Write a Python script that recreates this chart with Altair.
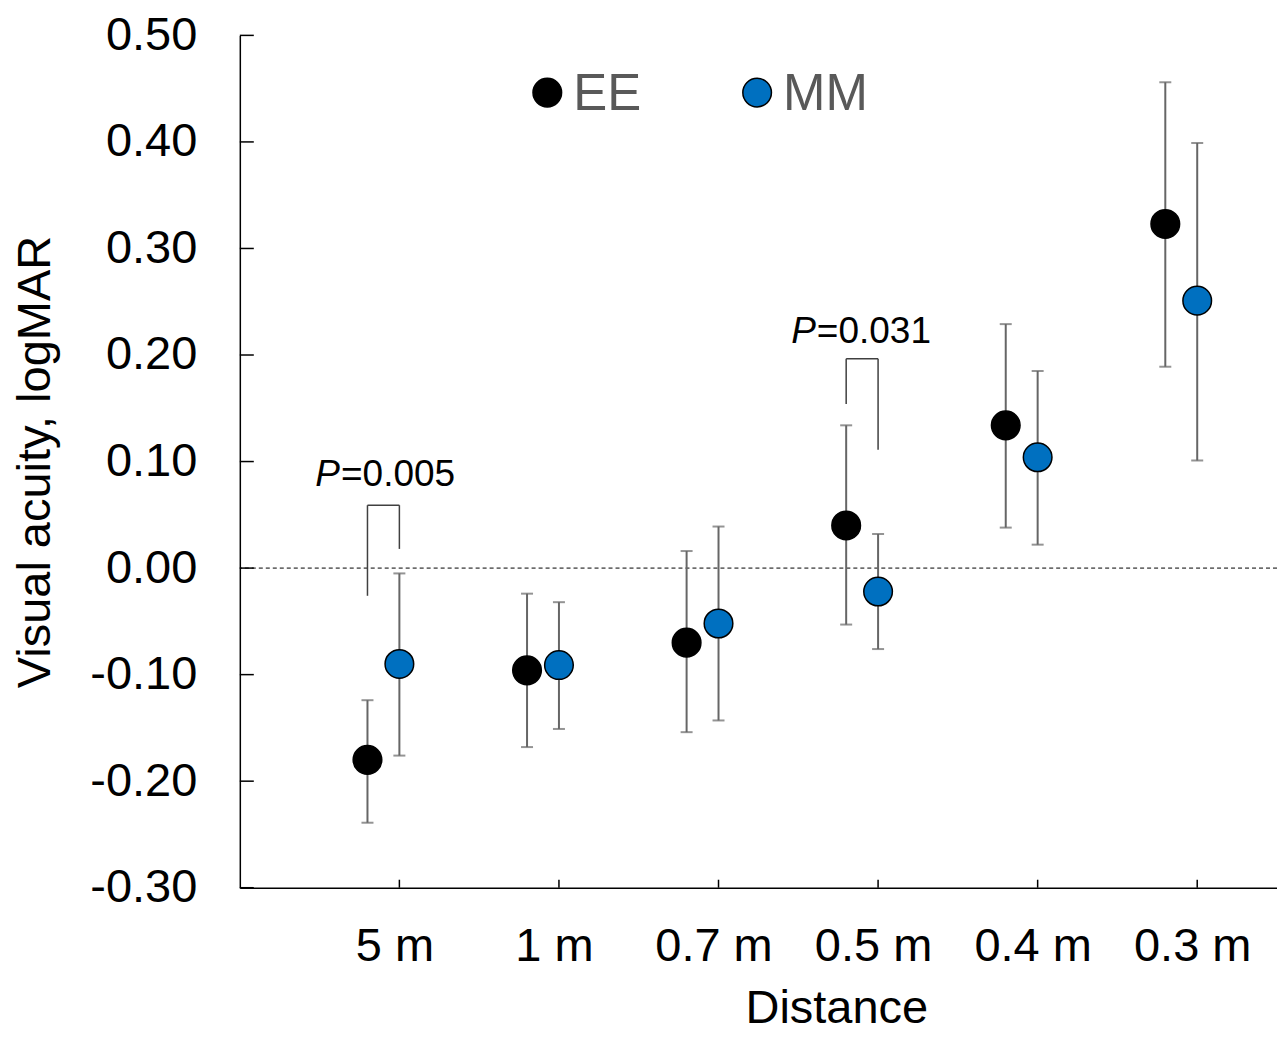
import json
import altair as alt
import pandas as pd

distances = ["5 m", "1 m", "0.7 m", "0.5 m", "0.4 m", "0.3 m"]
groups = ["EE", "MM"]
group_colors = ["#000000", "#0070C0"]
ee_mean = [-0.180, -0.096, -0.070, 0.040, 0.134, 0.323]
ee_low = [-0.239, -0.168, -0.154, -0.053, 0.038, 0.189]
ee_high = [-0.124, -0.024, 0.016, 0.134, 0.229, 0.456]
mm_mean = [-0.090, -0.091, -0.052, -0.022, 0.104, 0.251]
mm_low = [-0.176, -0.151, -0.143, -0.076, 0.022, 0.101]
mm_high = [-0.005, -0.032, 0.039, 0.032, 0.185, 0.399]
y_ticks = [-0.3, -0.2, -0.1, 0.0, 0.1, 0.2, 0.3, 0.4, 0.5]

# significance brackets (category index, left bottom, top, right bottom)
bracket_cat = [0, 3]
bracket_left_bottom = [-0.026, 0.154]
bracket_top = [0.059, 0.1965]
bracket_right_bottom = [0.018, 0.111]
p_values = ["=0.005", "=0.031"]
p_text_x = [0.628, 3.61]
p_text_y = [0.0775, 0.2115]

FONT = "Liberation Sans"
offsets = {"EE": -0.2, "MM": 0.0}

rows = []
for i, d in enumerate(distances):
    for g, m, lo, hi in (("EE", ee_mean[i], ee_low[i], ee_high[i]),
                         ("MM", mm_mean[i], mm_low[i], mm_high[i])):
        rows.append({"distance": d, "group": g, "x": i + 1 + offsets[g],
                     "mean": m, "low": lo, "high": hi})
df = pd.DataFrame(rows)

PLOT_W = 1038
PLOT_H = 853

ysc = alt.Scale(domain=[-0.3, 0.5], nice=False, zero=False)
xsc = alt.Scale(domain=[0, 6.5], nice=False, zero=False)
label_expr = "datum.value < 0 ? '-' + format(-datum.value, '.2f') : format(datum.value, '.2f')"
xlabel_expr = json.dumps(distances) + "[datum.value - 1]"

X_AX = alt.Axis(
    values=list(range(1, len(distances) + 1)), labelExpr=xlabel_expr,
    title="Distance", grid=False, ticks=False, domainColor="#000000",
    domainWidth=1.5, labelFont=FONT, labelFontSize=47, labelColor="#000000",
    labelPadding=36, labelOffset=-5, titleFont=FONT, titleFontSize=47,
    titleFontWeight="normal", titleColor="#000000", titlePadding=16,
    titleX=597, titleAlign="center")
Y_AX = alt.Axis(
    values=y_ticks, labelExpr=label_expr, title="Visual acuity, logMAR",
    grid=False, ticks=False, domainColor="#000000", domainWidth=1.5,
    labelFont=FONT, labelFontSize=47, labelColor="#000000", labelPadding=43,
    titleFont=FONT, titleFontSize=47, titleFontWeight="normal",
    titleColor="#000000", titlePadding=30)


def X(f):
    return alt.X(f, scale=xsc, axis=X_AX)


def Y(f):
    return alt.Y(f, scale=ysc, axis=Y_AX)


base = alt.Chart(df)

points = base.mark_point(filled=True, size=820, opacity=1, stroke="#000000",
                         strokeWidth=1.5).encode(
    x=X("x:Q"), y=Y("mean:Q"),
    fill=alt.Fill("group:N", scale=alt.Scale(domain=groups, range=group_colors), legend=None),
)

bars = base.mark_rule(color="#666666", strokeWidth=2).encode(
    x=X("x:Q"), y=Y("low:Q"), y2="high:Q")
cap_lo = base.mark_tick(orient="horizontal", size=12, thickness=2, color="#666666").encode(
    x=X("x:Q"), y=Y("low:Q"))
cap_hi = base.mark_tick(orient="horizontal", size=12, thickness=2, color="#666666").encode(
    x=X("x:Q"), y=Y("high:Q"))

zero = alt.Chart(pd.DataFrame({"y": [0.0]})).mark_rule(
    color="#000000", strokeWidth=1, strokeDash=[4, 3]).encode(y=Y("y:Q"))

# brackets
seg = []
for c, lb, t, rb in zip(bracket_cat, bracket_left_bottom, bracket_top, bracket_right_bottom):
    xl = c + 1 + offsets["EE"]
    xr = c + 1 + offsets["MM"]
    seg.append({"x": xl, "x2": xl, "y": lb, "y2": t})
    seg.append({"x": xl, "x2": xr, "y": t, "y2": t})
    seg.append({"x": xr, "x2": xr, "y": t, "y2": rb})
brackets = alt.Chart(pd.DataFrame(seg)).mark_rule(color="#404040", strokeWidth=1.5).encode(
    x=X("x:Q"), x2="x2:Q", y=Y("y:Q"), y2="y2:Q")

pdf = pd.DataFrame({"x": p_text_x, "y": p_text_y,
                    "p": ["P"] * len(p_values), "val": p_values})
p_italic = alt.Chart(pdf).mark_text(font=FONT, fontSize=37, fontStyle="italic",
                                    align="right", baseline="alphabetic", color="#000000").encode(
    x=X("x:Q"), y=Y("y:Q"), text="p:N")
p_val = alt.Chart(pdf).mark_text(font=FONT, fontSize=37, align="left", dx=1,
                                 baseline="alphabetic", color="#000000").encode(
    x=X("x:Q"), y=Y("y:Q"), text="val:N")

# legend
leg = pd.DataFrame({"group": groups, "x": [1.927, 3.242], "y": [0.4463, 0.4463],
                    "ty": [0.4295, 0.4295]})
leg_pts = alt.Chart(leg).mark_point(filled=True, size=820, opacity=1, stroke="#000000",
                                    strokeWidth=1.5).encode(
    x=X("x:Q"), y=Y("y:Q"),
    fill=alt.Fill("group:N", scale=alt.Scale(domain=groups, range=group_colors), legend=None))
leg_txt = alt.Chart(leg).mark_text(font=FONT, fontSize=51, align="left", dx=26,
                                   baseline="alphabetic", color="#595959").encode(
    x=X("x:Q"), y=Y("ty:Q"), text="group:N")

# inward ticks
xt = alt.Chart(pd.DataFrame({"x": list(range(1, len(distances) + 1))})).mark_rule(
    color="#000000", strokeWidth=1.5).encode(
    x=X("x:Q"), y=alt.value(PLOT_H), y2=alt.value(PLOT_H - 8))
yt = alt.Chart(pd.DataFrame({"y": y_ticks})).mark_rule(color="#000000", strokeWidth=1.5).encode(
    y=Y("y:Q"), x=alt.value(0), x2=alt.value(14))

chart = alt.layer(zero, bars, cap_lo, cap_hi, brackets, points, p_italic, p_val,
                  leg_pts, leg_txt, xt, yt).properties(
    width=PLOT_W, height=PLOT_H,
    autosize=alt.AutoSizeParams(type="none"),
    padding={"left": 232, "top": 27, "right": 0, "bottom": 147},
).configure_view(stroke=None)

chart.save("out.html", embed_options={"renderer": "svg", "actions": False})
